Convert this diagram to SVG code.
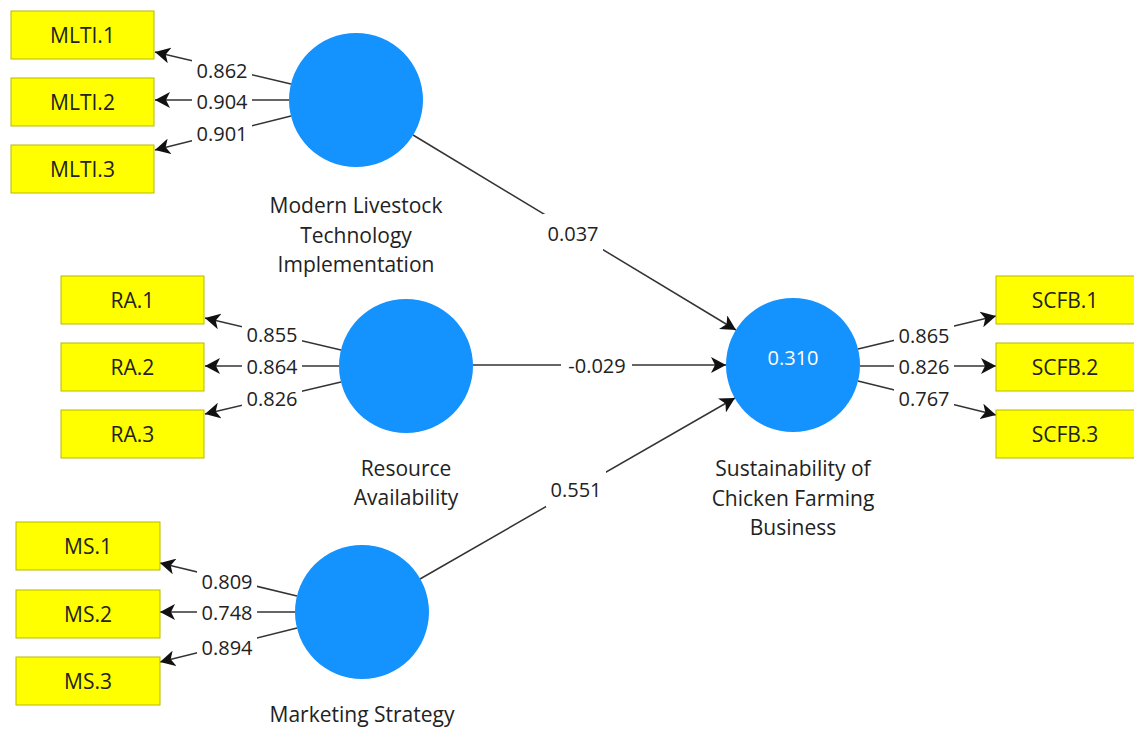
<svg xmlns="http://www.w3.org/2000/svg" width="1134" height="729" viewBox="0 0 1134 729">
<style>
.box{fill:#ffff00;stroke:#b8b800;stroke-width:1}
.lv{fill:#1492fd}
.t{font-family:"Open Sans","Noto Sans","Liberation Sans",sans-serif;fill:#222;text-anchor:middle;dominant-baseline:central}
.bt{font-size:21px}
.nl{font-size:21px}
.num{font-size:20px}
.w{fill:#ffffff}
.ln{stroke:#333;stroke-width:1.5;fill:none;marker-end:url(#ah)}
</style>
<defs>
<marker id="ah" markerUnits="userSpaceOnUse" markerWidth="16" markerHeight="16" refX="15" refY="8" orient="auto" viewBox="0 0 16 16">
<path d="M0,0 L15,8 L0,16 L4,8 z" fill="#111"/>
</marker>
</defs>
<rect width="1134" height="729" fill="#ffffff"/>

<g id="connectors">
<line class="ln" x1="291" y1="84" x2="155" y2="52"/>
<line class="ln" x1="289" y1="100" x2="155" y2="100"/>
<line class="ln" x1="291" y1="116" x2="155" y2="150"/>
<line class="ln" x1="341" y1="350" x2="205" y2="318"/>
<line class="ln" x1="339" y1="366" x2="205" y2="366"/>
<line class="ln" x1="341" y1="382" x2="205" y2="414"/>
<line class="ln" x1="297" y1="596" x2="160" y2="563"/>
<line class="ln" x1="295" y1="612" x2="160" y2="612"/>
<line class="ln" x1="297" y1="628" x2="160" y2="662"/>
<line class="ln" x1="858" y1="349" x2="996" y2="316"/>
<line class="ln" x1="860" y1="366" x2="996" y2="366"/>
<line class="ln" x1="858" y1="381" x2="996" y2="415"/>
<line class="ln" x1="413" y1="135" x2="736" y2="330"/>
<line class="ln" x1="473" y1="365" x2="726" y2="365"/>
<line class="ln" x1="420" y1="579" x2="735" y2="398"/>
<rect class="w" x="192" y="59" width="60" height="22"/>
<text class="t num" x="222" y="70">0.862</text>
<rect class="w" x="192" y="90" width="60" height="22"/>
<text class="t num" x="222" y="101">0.904</text>
<rect class="w" x="192" y="122" width="60" height="22"/>
<text class="t num" x="222" y="133">0.901</text>
<rect class="w" x="242" y="323" width="60" height="22"/>
<text class="t num" x="272" y="334">0.855</text>
<rect class="w" x="242" y="355" width="60" height="22"/>
<text class="t num" x="272" y="366">0.864</text>
<rect class="w" x="242" y="387" width="60" height="22"/>
<text class="t num" x="272" y="398">0.826</text>
<rect class="w" x="197" y="570" width="60" height="22"/>
<text class="t num" x="227" y="581">0.809</text>
<rect class="w" x="197" y="601" width="60" height="22"/>
<text class="t num" x="227" y="612">0.748</text>
<rect class="w" x="197" y="636" width="60" height="22"/>
<text class="t num" x="227" y="647">0.894</text>
<rect class="w" x="894" y="324" width="60" height="22"/>
<text class="t num" x="924" y="335">0.865</text>
<rect class="w" x="894" y="355" width="60" height="22"/>
<text class="t num" x="924" y="366">0.826</text>
<rect class="w" x="894" y="387" width="60" height="22"/>
<text class="t num" x="924" y="398">0.767</text>
<rect class="w" x="543" y="214" width="60" height="37"/>
<text class="t num" x="573" y="233">0.037</text>
<rect class="w" x="561" y="354" width="71" height="22"/>
<text class="t num" x="597" y="365">-0.029</text>
<rect class="w" x="546" y="471" width="60" height="36"/>
<text class="t num" x="576" y="489">0.551</text>
</g>

<g id="MLTI">
<circle class="lv" cx="356" cy="100" r="67"/>
<text class="t nl" x="356" y="205">Modern Livestock</text>
<text class="t nl" x="356" y="235">Technology</text>
<text class="t nl" x="356" y="264">Implementation</text>
</g>
<g id="MLTI1"><rect class="box" x="11" y="11" width="143" height="48"/><text class="t bt" x="82.5" y="35">MLTI.1</text></g>
<g id="MLTI2"><rect class="box" x="11" y="78" width="143" height="48"/><text class="t bt" x="82.5" y="102">MLTI.2</text></g>
<g id="MLTI3"><rect class="box" x="11" y="145" width="143" height="48"/><text class="t bt" x="82.5" y="169">MLTI.3</text></g>

<g id="RA">
<circle class="lv" cx="406" cy="366" r="67"/>
<text class="t nl" x="406" y="468">Resource</text>
<text class="t nl" x="406" y="497">Availability</text>
</g>
<g id="RA1"><rect class="box" x="61" y="276" width="143" height="48"/><text class="t bt" x="132.5" y="300">RA.1</text></g>
<g id="RA2"><rect class="box" x="61" y="343" width="143" height="48"/><text class="t bt" x="132.5" y="367">RA.2</text></g>
<g id="RA3"><rect class="box" x="61" y="410" width="143" height="48"/><text class="t bt" x="132.5" y="434">RA.3</text></g>

<g id="MS">
<circle class="lv" cx="362" cy="612" r="67"/>
<text class="t nl" x="362" y="714">Marketing Strategy</text>
</g>
<g id="MS1"><rect class="box" x="16" y="522" width="144" height="48"/><text class="t bt" x="88" y="546">MS.1</text></g>
<g id="MS2"><rect class="box" x="16" y="590" width="144" height="48"/><text class="t bt" x="88" y="614">MS.2</text></g>
<g id="MS3"><rect class="box" x="16" y="657" width="144" height="48"/><text class="t bt" x="88" y="681">MS.3</text></g>

<g id="SCFB">
<circle class="lv" cx="793" cy="365" r="67"/>
<text class="t num" x="793" y="357" style="fill:#ffffff">0.310</text>
<text class="t nl" x="793" y="468">Sustainability of</text>
<text class="t nl" x="793" y="498">Chicken Farming</text>
<text class="t nl" x="793" y="527">Business</text>
</g>
<g id="SCFB1"><rect class="box" x="996" y="276" width="143" height="48"/><text class="t bt" x="1065" y="300">SCFB.1</text></g>
<g id="SCFB2"><rect class="box" x="996" y="343" width="143" height="48"/><text class="t bt" x="1065" y="367">SCFB.2</text></g>
<g id="SCFB3"><rect class="box" x="996" y="410" width="143" height="48"/><text class="t bt" x="1065" y="434">SCFB.3</text></g>
</svg>
